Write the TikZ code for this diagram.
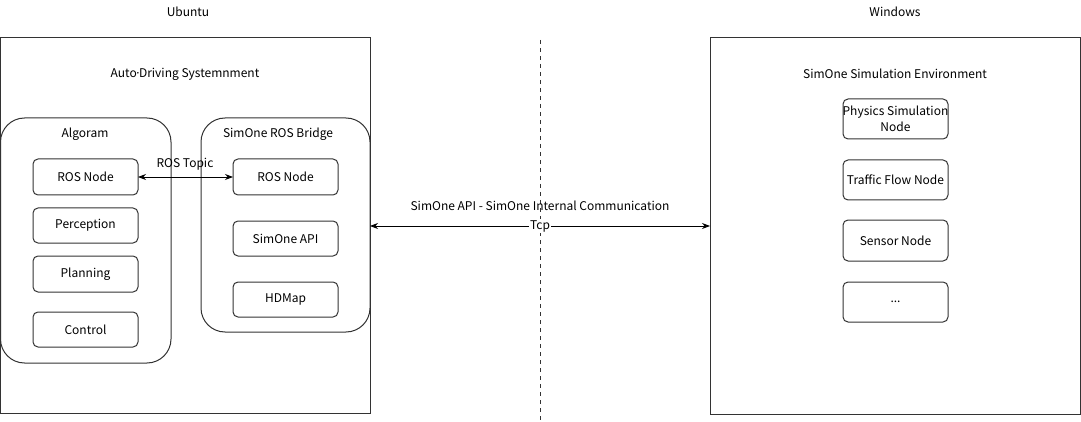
\documentclass[tikz,border=0pt]{standalone}
\usepackage{fontspec}
\setmainfont{Noto Sans CJK SC}
\newfontfamily\latinfont{Noto Sans}
\usetikzlibrary{arrows.meta}
\begin{document}
\begin{tikzpicture}[x=1pt,y=-1pt,
  every node/.style={font=\fontsize{12}{14}\selectfont, text=black},
  frame/.style={draw=black!80, line width=1pt},
  group/.style={draw=black!80, line width=1pt, rounded corners=24pt},
  item/.style={draw=black!80, line width=1pt, rounded corners=5pt},
  conn/.style={draw=black, line width=0.9pt, {Stealth[length=8pt,width=6pt]}-{Stealth[length=8pt,width=6pt]}}
]
\useasboundingbox (0,0) rectangle (1081,422);
% left frame
\draw[frame] (0.5,38) rectangle (370,413);
\node (ubuntu) at (188,12) {Ubuntu};
\node (ads) at (185,74) {Auto{\latinfont\kern-0.5pt·\kern-0.5pt}Driving Systemnment};
% Algoram group
\draw[group] (0.5,118) rectangle (171,363);
\node (alg) at (85,134) {Algoram};
\draw[item] (33,159) rectangle (138,195) node[midway] (rosa) {ROS Node};
\draw[item] (33,208) rectangle (138,243) node[midway] (perc) {Perception};
\draw[item] (33,256) rectangle (138,292) node[midway] (plan) {Planning};
\draw[item] (33,312) rectangle (138,347) node[midway] (ctrl) {Control};
\coordinate (rosaE) at (138,177);
% Bridge group
\draw[group] (201,118) rectangle (370,332);
\node (brg) at (278,134) {SimOne ROS Bridge};
\draw[item] (233,159) rectangle (338,195) node[midway] (rosb) {ROS Node};
\draw[item] (233,221) rectangle (338,256) node[midway] (api) {SimOne API};
\draw[item] (233,282) rectangle (338,317) node[midway] (hdm) {HDMap};
\coordinate (rosbW) at (233,177);
\coordinate (brgE) at (370,226);
% ROS topic
\draw[conn] (rosaE) -- (rosbW);
\node (rostopic) at (185,164) {ROS Topic};
% divider
\coordinate (divT) at (540,40);
\coordinate (divB) at (540,420);
\draw[black!80, line width=1pt, dash pattern=on 4pt off 4pt] (divT) -- (divB);
% right frame
\draw[frame] (710,38) rectangle (1080,414);
\node (win) at (895,12) {Windows};
\node (sse) at (895,74) {SimOne Simulation Environment};
\draw[item] (843,99) rectangle (948,139) node[midway, align=center, font=\fontsize{12}{16}\selectfont] (phys) {Physics Simulation\\Node};
\draw[item] (843,160) rectangle (948,200) node[midway] (traf) {Traffic Flow Node};
\draw[item] (843,220) rectangle (948,261) node[midway] (sens) {Sensor Node};
\draw[item] (843,282) rectangle (948,322) node[midway] (dots) {...};
\coordinate (winW) at (710,226);
% Tcp
\draw[conn] (brgE) -- (winW);
\node (api2) at (540,206) {SimOne API - SimOne Internal Communication};
\node[fill=white, inner sep=1pt] (tcp) at (540,226) {Tcp};
\end{tikzpicture}
\end{document}
